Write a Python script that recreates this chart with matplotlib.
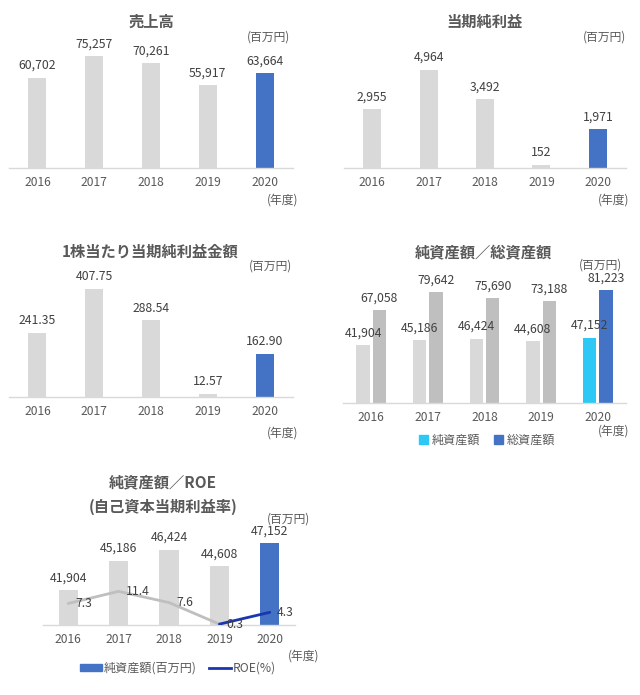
import numpy as np
import matplotlib
matplotlib.use('Agg')
import matplotlib.pyplot as plt
from matplotlib.patches import Patch
from matplotlib.lines import Line2D

plt.rcParams['font.family'] = ['Noto Sans CJK JP', 'DejaVu Sans']

# データ
years = ['2016', '2017', '2018', '2019', '2020']
sales = [60702, 75257, 70261, 55917, 63664]
net_income = [2955, 4964, 3492, 152, 1971]
eps = [241.35, 407.75, 288.54, 12.57, 162.90]
net_assets = [41904, 45186, 46424, 44608, 47152]
total_assets = [67058, 79642, 75690, 73188, 81223]
roe = [7.3, 11.4, 7.6, 0.3, 4.3]

GREY = '#d9d9d9'
GREY2 = '#bfbfbf'
BLUE = '#4472c4'
CYAN = '#2ec8f7'
NAVY = '#1a36b0'
TXT = '#595959'
LBL = '#404040'

W, H = 640, 695
fig = plt.figure(figsize=(W / 100, H / 100), dpi=100)


def px_axes(left, right, top, bottom):
    return fig.add_axes([left / W, 1 - bottom / H, (right - left) / W, (bottom - top) / H])


def ftext(x, y, s, **kw):
    kw.setdefault('color', TXT)
    kw.setdefault('ha', 'center')
    kw.setdefault('va', 'center')
    fig.text(x / W, 1 - y / H, s, **kw)


def style(ax):
    for side in ['top', 'left', 'right']:
        ax.spines[side].set_visible(False)
    ax.spines['bottom'].set_color(GREY)
    ax.spines['bottom'].set_linewidth(1.0)
    ax.set_yticks([])
    ax.tick_params(axis='x', length=0, pad=6, labelsize=8.7, labelcolor=TXT)
    ax.set_xlim(-0.5, len(years) - 0.5)
    ax.patch.set_alpha(0)


def simple_bar(ax, values, ymax, width, fmt):
    x = np.arange(len(years))
    colors = [GREY] * (len(values) - 1) + [BLUE]
    bars = ax.bar(x, values, width=width, color=colors)
    ax.bar_label(bars, labels=[fmt.format(v) for v in values], padding=4,
                 fontsize=8.8, color=LBL)
    ax.set_ylim(0, ymax)
    ax.set_xticks(x)
    ax.set_xticklabels(years)
    style(ax)


# 売上高
ax1 = px_axes(9, 293, 40, 168)
simple_bar(ax1, sales, 86000, 0.32, '{:,.0f}')
ftext(151, 22, '売上高', fontsize=11, fontweight='bold')
ftext(268, 37, '(百万円)', fontsize=8.5)
ftext(283, 200, '(年度)', fontsize=8.5)

# 当期純利益
ax2 = px_axes(344, 626, 40, 168)
simple_bar(ax2, net_income, 6460, 0.32, '{:,.0f}')
ftext(485, 22, '当期純利益', fontsize=11, fontweight='bold')
ftext(605, 37, '(百万円)', fontsize=8.5)
ftext(614, 200, '(年度)', fontsize=8.5)

# 1株当たり当期純利益金額
ax3 = px_axes(9, 293, 270, 397)
simple_bar(ax3, eps, 479, 0.32, '{:.2f}')
ftext(150, 252, '1株当たり当期純利益金額', fontsize=11, fontweight='bold')
ftext(271, 266, '(百万円)', fontsize=8.5)
ftext(283, 433, '(年度)', fontsize=8.5)

# 純資産額／総資産額
ax4 = px_axes(343, 626, 270, 403)
x = np.arange(len(years))
bw = 0.235
c_net = [GREY] * 4 + [CYAN]
c_tot = [GREY2] * 4 + [BLUE]
b1 = ax4.bar(x - 0.145, net_assets, width=bw, color=c_net)
b2 = ax4.bar(x + 0.145, total_assets, width=bw, color=c_tot)
ax4.bar_label(b1, labels=[f'{v:,}' for v in net_assets], padding=4, fontsize=8.8, color=LBL)
ax4.bar_label(b2, labels=[f'{v:,}' for v in total_assets], padding=4, fontsize=8.8, color=LBL)
ax4.set_ylim(0, 95800)
ax4.set_xticks(x)
ax4.set_xticklabels(years)
style(ax4)
ftext(483, 252, '純資産額／総資産額', fontsize=11, fontweight='bold')
ftext(600, 265, '(百万円)', fontsize=8.5)
ftext(614, 431, '(年度)', fontsize=8.5)
fig.legend(handles=[Patch(color=CYAN, label='純資産額'), Patch(color=BLUE, label='総資産額')],
           loc='center', bbox_to_anchor=(487 / W, 1 - 440 / H), ncol=2, frameon=False,
           fontsize=8.7, labelcolor=TXT, handlelength=0.7, handleheight=0.7,
           handletextpad=0.3, columnspacing=1.2)

# 純資産額／ROE
ax5 = px_axes(43, 295, 525, 625)
x = np.arange(len(years))
colors = [GREY] * 4 + [BLUE]
b5 = ax5.bar(x, net_assets, width=0.38, color=colors)
ax5.bar_label(b5, labels=[f'{v:,}' for v in net_assets], padding=4, fontsize=8.8, color=LBL)
ax5.set_ylim(38000, 49160)
ax5.set_xticks(x)
ax5.set_xticklabels(years)
style(ax5)
ax5r = ax5.twinx()
ax5r.plot(x[:4], roe[:4], color=GREY2, lw=2, solid_capstyle='round')
ax5r.plot(x[3:], roe[3:], color=NAVY, lw=2, solid_capstyle='round')
for xi, v in zip(x, roe):
    ax5r.annotate(f'{v:.1f}', (xi, v), xytext=(5, 0), textcoords='offset points',
                  ha='left', va='center', fontsize=8.8, color=LBL)
ax5r.set_ylim(0, 33.9)
ax5r.set_axis_off()
ftext(163, 482, '純資産額／ROE', fontsize=11, fontweight='bold')
ftext(163, 507, '(自己資本当期利益率)', fontsize=11, fontweight='bold')
ftext(289, 519, '(百万円)', fontsize=8.5)
ftext(304, 656, '(年度)', fontsize=8.5)
fig.legend(handles=[Patch(color=BLUE, label='純資産額(百万円)'),
                    Line2D([], [], color=NAVY, lw=2, label='ROE(%)')],
           loc='center', bbox_to_anchor=(178 / W, 1 - 668 / H), ncol=2, frameon=False,
           fontsize=8.7, labelcolor=TXT, handlelength=1.8, handleheight=0.5,
           handletextpad=0.2, columnspacing=1.0)

fig.savefig('out.png', dpi=100)
